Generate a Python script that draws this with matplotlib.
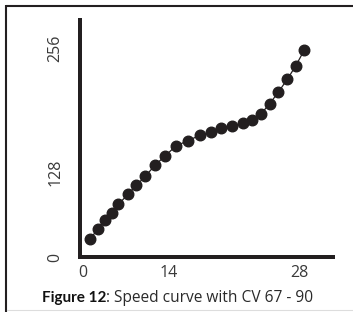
import matplotlib
matplotlib.use("Agg")
import matplotlib.pyplot as plt
from matplotlib.lines import Line2D

# Data
speed_step = [0.9, 1.9, 2.8, 3.8, 4.6, 5.8, 6.9, 8.1, 9.3, 10.6, 12.0, 13.6,
              15.2, 16.6, 17.9, 19.3, 20.7, 21.9, 23.1, 24.2, 25.3, 26.5, 27.6, 28.7]
speed_value = [20.8, 33.1, 44.5, 52.7, 63.7, 75.9, 87.0, 98.4, 111.5, 122.9, 135.1, 142.1,
               148.6, 152.7, 157.6, 159.6, 163.8, 167.8, 175.2, 187.4, 201.3, 217.7, 234.3, 253.6]
x_tick_pos = [0, 11.15, 28]
x_tick_labels = ["0", "14", "28"]
y_tick_pos = [-1, 103, 256]
y_tick_labels = ["0", "128", "256"]
caption_bold = "Figure 12"
caption_rest = ": Speed curve with CV 67 - 90"

W, H = 353, 312
fig = plt.figure(figsize=(W / 100, H / 100), dpi=100)
fig.patch.set_facecolor("white")

ink = "#231f20"
font = "Open Sans"

ax = fig.add_axes([80.3 / W, (H - 257) / H, (332.7 - 80.3) / W, (257 - 20) / H])
ax.plot(speed_step, speed_value, color=ink, lw=0.9, marker="o", ms=7.6,
        mfc=ink, mec=ink, zorder=3, clip_on=False)
ax.set_xlim(-0.35, 32.37)
ax.set_ylim(0, 290.3)
for s in ["top", "right"]:
    ax.spines[s].set_visible(False)
for s in ["left", "bottom"]:
    ax.spines[s].set_linewidth(4 * 72 / 100)
    ax.spines[s].set_color(ink)
    ax.spines[s].set_capstyle("projecting")
ax.set_xticks(x_tick_pos)
ax.set_xticklabels(x_tick_labels, family=font, fontsize=11.5, color="#3a3a3a")
ax.set_yticks(y_tick_pos)
ax.set_yticklabels(y_tick_labels, family=font, fontsize=11.5, color="#3a3a3a",
                   rotation=90, va="center")
ax.tick_params(length=0, pad=12)
ax.tick_params(axis="x", pad=6)

# frame
fig.add_artist(Line2D([6 / W, 1], [1 - 6 / H, 1 - 6 / H], transform=fig.transFigure,
                      color=ink, lw=1.5, solid_capstyle="butt"))
fig.add_artist(Line2D([6 / W, 6 / W], [1 - 5 / H, 0], transform=fig.transFigure,
                      color=ink, lw=1.5, solid_capstyle="butt"))
fig.add_artist(Line2D([7 / W, 1], [1 - 309.5 / H, 1 - 309.5 / H], transform=fig.transFigure,
                      color="#dddddd", lw=0.8))

t1 = fig.text(42 / W, 1 - 302 / H, caption_bold, family="Lato", weight="bold",
              fontsize=11, color="#111111", va="baseline")
fig.canvas.draw()
bb = t1.get_window_extent()
fig.text(bb.x1 / W, 1 - 302 / H, caption_rest, family=font, fontsize=11.2,
         color="#2a2a2a", va="baseline")

fig.savefig("out.png", dpi=100)
